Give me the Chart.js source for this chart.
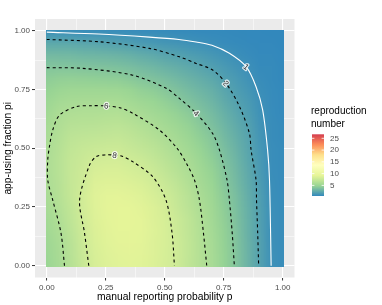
<!DOCTYPE html>
<html>
<head>
<meta charset="utf-8">
<script src="https://cdn.jsdelivr.net/npm/chart.js"></script>
<style>
  html, body { margin: 0; padding: 0; background: #fff; }
</style>
</head>
<body>
<canvas id="heat" width="382" height="305"></canvas>
<script>
// surface grid: manual reporting probability p (columns), app-using fraction pi (rows)
const pGrid  = [0, 0.05, 0.1, 0.15, 0.2, 0.25, 0.3, 0.35, 0.4, 0.45, 0.5, 0.55, 0.6, 0.65, 0.7, 0.75, 0.8, 0.85, 0.9, 0.95, 1];
const piGrid = [0, 0.05, 0.1, 0.15, 0.2, 0.25, 0.3, 0.35, 0.4, 0.45, 0.5, 0.55, 0.6, 0.65, 0.7, 0.75, 0.8, 0.85, 0.9, 0.95, 1];

// reproduction number, one row per pi value (pi = 0 first)
const rRows = [
  [5.0, 5.65, 6.5, 7.5, 8.3, 8.7, 8.9, 9.0, 8.9, 8.65, 8.3, 7.9, 7.1, 6.4, 5.7, 4.75, 3.95, 2.95, 2.0, 1.0, 0.8],
  [5.1, 5.75, 6.6, 7.6, 8.4, 8.8, 9.0, 9.05, 9.0, 8.7, 8.35, 7.85, 7.15, 6.4, 5.7, 4.75, 3.95, 2.95, 2.0, 1.0, 0.8],
  [5.2, 5.85, 6.7, 7.7, 8.5, 8.9, 9.1, 9.15, 9.05, 8.75, 8.4, 7.85, 7.15, 6.35, 5.65, 4.7, 3.9, 2.9, 1.97, 0.98, 0.8],
  [5.35, 6.0, 6.85, 7.8, 8.6, 9.0, 9.2, 9.2, 9.1, 8.8, 8.4, 7.75, 7.1, 6.3, 5.55, 4.65, 3.85, 2.85, 1.93, 0.97, 0.79],
  [5.5, 6.15, 7.0, 7.95, 8.7, 9.05, 9.25, 9.25, 9.1, 8.75, 8.35, 7.7, 7.0, 6.2, 5.45, 4.55, 3.75, 2.8, 1.9, 0.95, 0.78],
  [5.7, 6.35, 7.15, 8.05, 8.8, 9.1, 9.25, 9.2, 9.0, 8.65, 8.2, 7.5, 6.8, 6.05, 5.3, 4.45, 3.65, 2.75, 1.85, 0.93, 0.77],
  [5.85, 6.5, 7.3, 8.1, 8.85, 9.05, 9.1, 9.0, 8.8, 8.4, 7.95, 7.3, 6.6, 5.85, 5.15, 4.3, 3.55, 2.65, 1.8, 0.9, 0.76],
  [5.95, 6.55, 7.35, 7.9, 8.7, 8.85, 8.85, 8.7, 8.5, 8.1, 7.6, 7.0, 6.35, 5.6, 4.95, 4.15, 3.4, 2.55, 1.7, 0.88, 0.75],
  [6.0, 6.6, 7.35, 7.8, 8.45, 8.55, 8.55, 8.35, 8.1, 7.7, 7.2, 6.65, 6.05, 5.35, 4.75, 4.0, 3.25, 2.45, 1.6, 0.86, 0.74],
  [6.0, 6.6, 7.3, 7.65, 8.05, 8.15, 8.2, 7.95, 7.7, 7.3, 6.8, 6.3, 5.75, 5.1, 4.5, 3.8, 3.1, 2.3, 1.5, 0.84, 0.72],
  [5.95, 6.5, 7.15, 7.4, 7.6, 7.7, 7.75, 7.5, 7.2, 6.85, 6.4, 5.9, 5.4, 4.8, 4.25, 3.6, 2.9, 2.2, 1.4, 0.82, 0.7],
  [5.85, 6.35, 6.9, 7.05, 7.15, 7.25, 7.3, 7.05, 6.75, 6.4, 6.0, 5.55, 5.05, 4.5, 4.0, 3.35, 2.7, 2.1, 1.3, 0.8, 0.68],
  [5.65, 6.15, 6.55, 6.65, 6.7, 6.8, 6.85, 6.6, 6.3, 5.95, 5.55, 5.15, 4.7, 4.2, 3.7, 3.1, 2.5, 1.95, 1.2, 0.78, 0.66],
  [5.4, 5.95, 6.15, 6.2, 6.25, 6.3, 6.35, 6.05, 5.75, 5.45, 5.1, 4.7, 4.3, 3.85, 3.4, 2.8, 2.25, 1.75, 1.1, 0.76, 0.64],
  [5.1, 5.55, 5.7, 5.75, 5.75, 5.8, 5.8, 5.5, 5.2, 4.95, 4.6, 4.25, 3.85, 3.45, 3.05, 2.5, 2.0, 1.55, 1.03, 0.74, 0.62],
  [4.75, 5.05, 5.2, 5.2, 5.2, 5.2, 5.15, 4.9, 4.6, 4.4, 4.1, 3.75, 3.4, 3.05, 2.7, 2.2, 1.75, 1.35, 0.9, 0.72, 0.6],
  [4.4, 4.55, 4.6, 4.55, 4.5, 4.45, 4.4, 4.2, 3.95, 3.75, 3.5, 3.2, 2.9, 2.6, 2.3, 1.85, 1.5, 1.15, 0.78, 0.69, 0.58],
  [3.95, 3.95, 3.9, 3.85, 3.8, 3.75, 3.65, 3.5, 3.3, 3.1, 2.85, 2.6, 2.35, 2.1, 1.8, 1.5, 1.2, 0.95, 0.68, 0.66, 0.56],
  [3.3, 3.25, 3.2, 3.1, 3.05, 3.0, 2.9, 2.75, 2.55, 2.35, 2.1, 1.95, 1.75, 1.55, 1.35, 1.1, 0.9, 0.75, 0.62, 0.62, 0.54],
  [2.3, 2.3, 2.3, 2.2, 2.15, 2.0, 1.85, 1.75, 1.6, 1.45, 1.3, 1.2, 1.05, 0.95, 0.85, 0.75, 0.68, 0.62, 0.58, 0.58, 0.52],
  [0.95, 0.93, 0.9, 0.86, 0.83, 0.8, 0.78, 0.76, 0.74, 0.72, 0.7, 0.68, 0.66, 0.64, 0.62, 0.6, 0.58, 0.56, 0.54, 0.52, 0.5]
];

// contour lines (p, pi)
const c1P  = [0, 0.22, 0.435, 0.56, 0.633, 0.70, 0.774, 0.845, 0.887, 0.915, 0.936, 0.944, 0.951];
const c1Pi = [0.994, 0.986, 0.973, 0.963, 0.952, 0.938, 0.904, 0.847, 0.762, 0.663, 0.492, 0.365, 0];
const c2P  = [0, 0.224, 0.435, 0.562, 0.633, 0.703, 0.76, 0.817, 0.859, 0.866, 0.887, 0.889, 0.894, 0.898];
const c2Pi = [0.963, 0.953, 0.925, 0.889, 0.861, 0.833, 0.776, 0.677, 0.563, 0.492, 0.365, 0.28, 0.139, 0];
const c4P  = [0, 0.153, 0.364, 0.506, 0.562, 0.633, 0.703, 0.732, 0.764, 0.774, 0.786, 0.795];
const c4Pi = [0.843, 0.84, 0.811, 0.755, 0.712, 0.649, 0.563, 0.492, 0.365, 0.28, 0.139, 0];
const c6P  = [0.075, 0.06, 0.025, 0.004, 0.004, 0.011, 0.025, 0.054, 0.125, 0.19, 0.252, 0.31, 0.364, 0.478, 0.552, 0.595, 0.626, 0.647, 0.664, 0.678];
const c6Pi = [0, 0.14, 0.28, 0.365, 0.45, 0.506, 0.577, 0.641, 0.677, 0.681, 0.68, 0.672, 0.649, 0.577, 0.5, 0.43, 0.365, 0.28, 0.14, 0];
const c8P  = [0.178, 0.16, 0.139, 0.181, 0.209, 0.25, 0.287, 0.32, 0.364, 0.449, 0.505, 0.531, 0.541];
const c8Pi = [0, 0.139, 0.28, 0.428, 0.464, 0.472, 0.471, 0.466, 0.443, 0.379, 0.28, 0.139, 0];

const labelText = ['1', '2', '4', '6', '8'];
const labelP    = [0.845, 0.76, 0.633, 0.252, 0.287];
const labelPi   = [0.847, 0.776, 0.649, 0.68, 0.471];

const axisMajor = [0, 0.25, 0.5, 0.75, 1];
const axisMinor = [0.125, 0.375, 0.625, 0.875];
const legendTicks = [5, 10, 15, 20, 25];
const fillMin = 0.5, fillMax = 26.7;
const palette = ['#3288BD', '#99D594', '#E6F598', '#FFFFBF', '#FEE08B', '#FC8D59', '#D53E4F'];

const FONT = "'Liberation Sans', Arial, sans-serif";
Chart.defaults.font.family = FONT;

function hexRgb(h) {
  return [parseInt(h.slice(1, 3), 16), parseInt(h.slice(3, 5), 16), parseInt(h.slice(5, 7), 16)];
}
const palRgb = palette.map(hexRgb);

function fillRgb(v) {
  let t = (v - fillMin) / (fillMax - fillMin);
  t = Math.max(0, Math.min(1, t)) * (palRgb.length - 1);
  const k = Math.min(Math.floor(t), palRgb.length - 2), f = t - k;
  const a = palRgb[k], b = palRgb[k + 1];
  return [0, 1, 2].map(i => Math.round(a[i] + (b[i] - a[i]) * f));
}

const contours = [
  { p: c1P, pi: c1Pi, colour: '#FFFFFF', dash: [] },
  { p: c2P, pi: c2Pi, colour: '#000000', dash: [3, 3] },
  { p: c4P, pi: c4Pi, colour: '#000000', dash: [3, 3] },
  { p: c6P, pi: c6Pi, colour: '#000000', dash: [3, 3] },
  { p: c8P, pi: c8Pi, colour: '#000000', dash: [3, 3] }
];

// one pixel per grid value, scaled onto the panel with smoothing (like an interpolated raster)
function rasterImage() {
  const nx = pGrid.length, ny = piGrid.length;
  const off = document.createElement('canvas');
  off.width = nx; off.height = ny;
  const octx = off.getContext('2d');
  const img = octx.createImageData(nx, ny);
  for (let i = 0; i < ny; i++) {
    for (let j = 0; j < nx; j++) {
      const c = fillRgb(rRows[i][j]);
      const o = ((ny - 1 - i) * nx + j) * 4;
      img.data[o] = c[0]; img.data[o + 1] = c[1]; img.data[o + 2] = c[2]; img.data[o + 3] = 255;
    }
  }
  octx.putImageData(img, 0, 0);
  return off;
}
const raster = rasterImage();

const panelPlugin = {
  id: 'panel',
  beforeDraw(chart) {
    const a = chart.chartArea, ctx = chart.ctx;
    ctx.save();
    ctx.fillStyle = '#EBEBEB';
    ctx.fillRect(a.left, a.top, a.right - a.left, a.bottom - a.top);
    ctx.restore();
  },
  beforeDatasetsDraw(chart) {
    const ctx = chart.ctx, xs = chart.scales.x, ys = chart.scales.y;
    const dx = (pGrid[1] - pGrid[0]) / 2, dy = (piGrid[1] - piGrid[0]) / 2;
    const pLo = pGrid[0], pHi = pGrid[pGrid.length - 1];
    const piLo = piGrid[0], piHi = piGrid[piGrid.length - 1];
    ctx.save();
    // tiles reach half a raster cell past the data range
    const cl = Math.round(xs.getPixelForValue(pLo - 0.005)), cr = Math.round(xs.getPixelForValue(pHi + 0.005));
    const ct = Math.round(ys.getPixelForValue(piHi + 0.005)), cb = Math.round(ys.getPixelForValue(piLo - 0.005));
    ctx.beginPath();
    ctx.rect(cl, ct, cr - cl, cb - ct);
    ctx.clip();
    ctx.imageSmoothingEnabled = true;
    ctx.imageSmoothingQuality = 'low';
    const l = xs.getPixelForValue(pLo - dx), r = xs.getPixelForValue(pHi + dx);
    const t = ys.getPixelForValue(piHi + dy), b = ys.getPixelForValue(piLo - dy);
    ctx.drawImage(raster, l, t, r - l, b - t);
    ctx.restore();
  },
  afterDatasetsDraw(chart) {
    const ctx = chart.ctx, xs = chart.scales.x, ys = chart.scales.y;
    ctx.save();
    ctx.font = '8px ' + FONT;
    ctx.textAlign = 'center';
    ctx.textBaseline = 'middle';
    labelText.forEach((txt, k) => {
      const c = contours[k];
      const px = xs.getPixelForValue(labelP[k]), py = ys.getPixelForValue(labelPi[k]);
      let best = Infinity, ang = 0;
      for (let m = 0; m < c.p.length - 1; m++) {
        const ax = xs.getPixelForValue(c.p[m]), ay = ys.getPixelForValue(c.pi[m]);
        const bx = xs.getPixelForValue(c.p[m + 1]), by = ys.getPixelForValue(c.pi[m + 1]);
        const d = Math.hypot((ax + bx) / 2 - px, (ay + by) / 2 - py);
        if (d < best) { best = d; ang = Math.atan2(by - ay, bx - ax); }
      }
      if (ang > Math.PI / 2) ang -= Math.PI;
      if (ang < -Math.PI / 2) ang += Math.PI;
      ctx.save();
      ctx.translate(px, py);
      ctx.rotate(ang);
      ctx.lineWidth = 2.4;
      ctx.lineJoin = 'round';
      ctx.strokeStyle = 'rgba(255,255,255,0.8)';
      ctx.strokeText(txt, 0, 0.5);
      ctx.fillStyle = '#303030';
      ctx.fillText(txt, 0, 0.5);
      ctx.restore();
    });
    ctx.restore();
  },
  afterDraw(chart) {
    const ctx = chart.ctx;
    ctx.save();
    // legend title
    ctx.fillStyle = '#000000';
    ctx.font = '10px ' + FONT;
    ctx.textAlign = 'left';
    ctx.textBaseline = 'middle';
    ctx.fillText('reproduction', 311, 111.5);
    ctx.fillText('number', 311, 124);
    // colour bar
    const barX = 312, barW = 12, barTop = 134.3, barBottom = 196;
    const g = ctx.createLinearGradient(0, barBottom, 0, barTop);
    palette.forEach((c, k) => g.addColorStop(k / (palette.length - 1), c));
    ctx.fillStyle = g;
    ctx.fillRect(barX, barTop, barW, barBottom - barTop);
    ctx.strokeStyle = '#FFFFFF';
    ctx.lineWidth = 0.8;
    ctx.font = '8px ' + FONT;
    ctx.fillStyle = '#4D4D4D';
    legendTicks.forEach(v => {
      const yy = barBottom - (v - fillMin) / (fillMax - fillMin) * (barBottom - barTop);
      ctx.beginPath();
      ctx.moveTo(barX, yy); ctx.lineTo(barX + 2.4, yy);
      ctx.moveTo(barX + barW - 2.4, yy); ctx.lineTo(barX + barW, yy);
      ctx.stroke();
      ctx.fillText(String(v), 330, yy);
    });
    ctx.restore();
  }
};

function axisTicks(scale) {
  scale.ticks = axisMajor.concat(axisMinor).sort((a, b) => a - b).map(v => ({ value: v }));
}
const isMajor = v => axisMajor.indexOf(v) >= 0;

function axisOptions(title, titlePad) {
  return {
    type: 'linear',
    min: -0.05,
    max: 1.05,
    afterBuildTicks: axisTicks,
    border: { display: false },
    grid: {
      color: '#FFFFFF',
      lineWidth: ctx => (ctx.tick && isMajor(ctx.tick.value)) ? 1.1 : 0.5,
      tickColor: ctx => (ctx.tick && isMajor(ctx.tick.value)) ? '#333333' : 'rgba(0,0,0,0)',
      tickLength: 3,
      tickWidth: 1
    },
    ticks: {
      autoSkip: false,
      maxRotation: 0,
      padding: 2,
      color: '#4D4D4D',
      font: { size: 8 },
      callback: v => isMajor(v) ? v.toFixed(2) : ''
    },
    title: {
      display: true,
      text: title,
      color: '#000000',
      font: { size: 10.3 },
      padding: titlePad
    }
  };
}

const xOpts = axisOptions('manual reporting probability p', { top: 0, bottom: 2 });
xOpts.afterFit = s => { s.height = 27.5; };
const yOpts = axisOptions('app-using fraction pi', { top: 2, bottom: 0 });
yOpts.afterFit = s => { s.width = 35; };

new Chart(document.getElementById('heat'), {
  type: 'scatter',
  data: {
    datasets: contours.map(c => ({
      data: c.p.map((p, k) => ({ x: p, y: c.pi[k] })),
      showLine: true,
      borderColor: c.colour,
      borderWidth: 1.1,
      borderDash: c.dash,
      pointRadius: 0,
      pointHoverRadius: 0,
      tension: 0.3,
      fill: false
    }))
  },
  options: {
    responsive: false,
    devicePixelRatio: 1,
    animation: false,
    layout: { padding: { left: 0, right: 87.5, top: 19, bottom: 0 } },
    plugins: { legend: { display: false }, tooltip: { enabled: false } },
    scales: { x: xOpts, y: yOpts }
  },
  plugins: [panelPlugin]
});
</script>
</body>
</html>
